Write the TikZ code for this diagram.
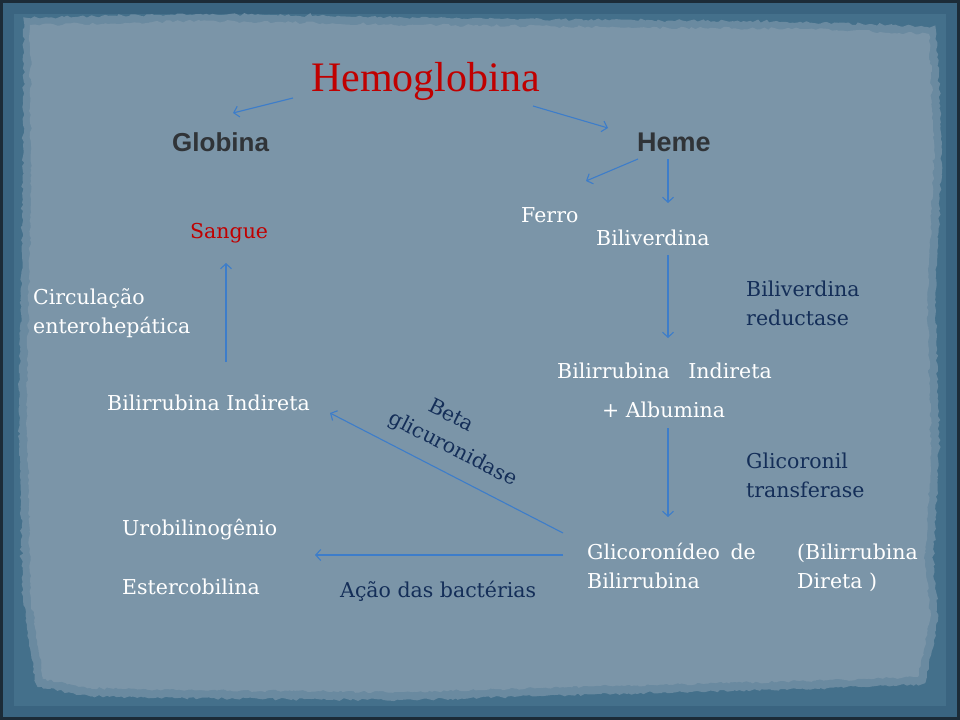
\documentclass[tikz,border=0pt]{standalone}
\usepackage{fontspec}
\setmainfont{DejaVu Serif}
\newfontfamily\titlefont{Liberation Serif}
\newfontfamily\hsans{Liberation Sans}
\usetikzlibrary{arrows.meta,decorations.pathmorphing}
\definecolor{paper}{HTML}{7B95A8}
\definecolor{paperedge}{HTML}{6A8AA0}
\definecolor{frameblue}{HTML}{44708B}
\definecolor{framedark}{HTML}{3A6480}
\definecolor{edgedark}{HTML}{1C2B37}
\definecolor{titlered}{HTML}{C00000}
\definecolor{navy}{HTML}{142E58}
\definecolor{headgray}{HTML}{303438}
\definecolor{arrowblue}{HTML}{3D7DCA}
\begin{document}
\begin{tikzpicture}[x=1bp,y=-1bp,
 txt/.style={inner sep=0pt, anchor=base west, text=white, font=\fontsize{20.5bp}{28.5bp}\selectfont, align=left},
 lbl/.style={txt, text=navy},
 head/.style={inner sep=0pt, anchor=base west, text=headgray, font=\hsans\bfseries\fontsize{26bp}{30bp}\selectfont},
 conn/.style={draw=arrowblue, line width=1.1bp, -{Straight Barb[length=5bp,width=11bp]}}]
\useasboundingbox (0,0) rectangle (960,720);
% frame
\fill[frameblue] (0,0) rectangle (960,720);
\draw[framedark, line width=14bp] (7,7) rectangle (953,713);
\draw[edgedark, line width=3bp] (1.5,1.5) rectangle (958.5,718.5);
% paper
\path[draw=paperedge, line width=8bp, fill=paper,
  decorate, decoration={random steps, segment length=3bp, amplitude=1.2bp}]
  (28,22) -- (200,18) -- (420,22) -- (600,24) -- (800,26) -- (932,31)
  -- (938,150) -- (931,300) -- (935,450) -- (929,560) -- (934,620) -- (922,680)
  -- (800,685) -- (600,690) -- (400,696) -- (200,694) -- (90,692) -- (40,683)
  -- (27,600) -- (23,400) -- (27,200) -- cycle;
\fill[paper, decorate, decoration={random steps, segment length=4bp, amplitude=1.5bp}]
  (30,25) -- (200,21) -- (420,25) -- (600,27) -- (800,29) -- (929,34)
  -- (934,150) -- (927,300) -- (931,450) -- (925,560) -- (930,620) -- (918,677)
  -- (800,681) -- (600,686) -- (400,692) -- (200,690) -- (90,688) -- (44,679)
  -- (31,600) -- (27,400) -- (31,200) -- cycle;
% nodes (multi-line nodes are placed by the baseline of their last line)
\node[txt, font=\titlefont\fontsize{42bp}{46bp}\selectfont, text=titlered] (hemo) at (311,92) {Hemoglobina};
\node[head] (glob) at (172,152) {Globina};
\node[head, font=\hsans\bfseries\fontsize{27bp}{30bp}\selectfont] (heme) at (637,152) {Heme};
\node[txt] (ferro) at (521,222) {Ferro};
\node[txt] (biliv) at (596,245) {Biliverdina};
\node[txt, text=titlered] (sangue) at (190,238) {Sangue};
\node[txt] (circ) at (33,333) {Circulação\\enterohepática};
\node[txt] (bi1) at (107,410) {Bilirrubina Indireta};
\node[lbl] (redu) at (746,325) {Biliverdina\\reductase};
\node[txt] (bi2) at (557,378) {Bilirrubina\hspace{12bp} Indireta};
\node[txt] (alb) at (602,417) {+ Albumina};
\node[lbl] (glitr) at (746,497) {Glicoronil\\transferase};
\node[txt] (glic) at (587,588) {Glicoronídeo\hspace{4bp} de\\Bilirrubina};
\node[txt] (direta) at (797,588) {(Bilirrubina\\Direta )};
\node[txt] (uro) at (122,535) {Urobilinogênio};
\node[txt] (ester) at (122,594) {Estercobilina};
\node[lbl] (acao) at (340,597) {Ação das bactérias};
\node[lbl, anchor=center, rotate=-27] (beta) at (459,437) {\hspace*{30bp}Beta\\glicuronidase};
% connectors
\draw[conn] ([shift={(-18,6)}]hemo.base west) -- ([shift={(61,-39)}]glob.base west);
\draw[conn] ([shift={(222,14)}]hemo.base west) -- ([shift={(-29,-24)}]heme.base west);
\draw[conn] ([shift={(1,7)}]heme.base west) -- ([shift={(65,-41)}]ferro.base west);
\draw[conn] ([shift={(31,7)}]heme.base west) -- ([shift={(72,-42)}]biliv.base west);
\draw[conn] ([shift={(72,10)}]biliv.base west) -- ([shift={(111,-40)}]bi2.base west);
\draw[conn] ([shift={(66,11)}]alb.base west) -- ([shift={(81,-71)}]glic.base west);
\draw[conn] ([shift={(-24,-33)}]glic.base west) -- ([shift={(193,20)}]uro.base west);
\draw[conn] ([shift={(-24,-55)}]glic.base west) -- ([shift={(223,3)}]bi1.base west);
\draw[conn] ([shift={(119,-48)}]bi1.base west) -- ([shift={(36,25)}]sangue.base west);
\end{tikzpicture}
\end{document}
